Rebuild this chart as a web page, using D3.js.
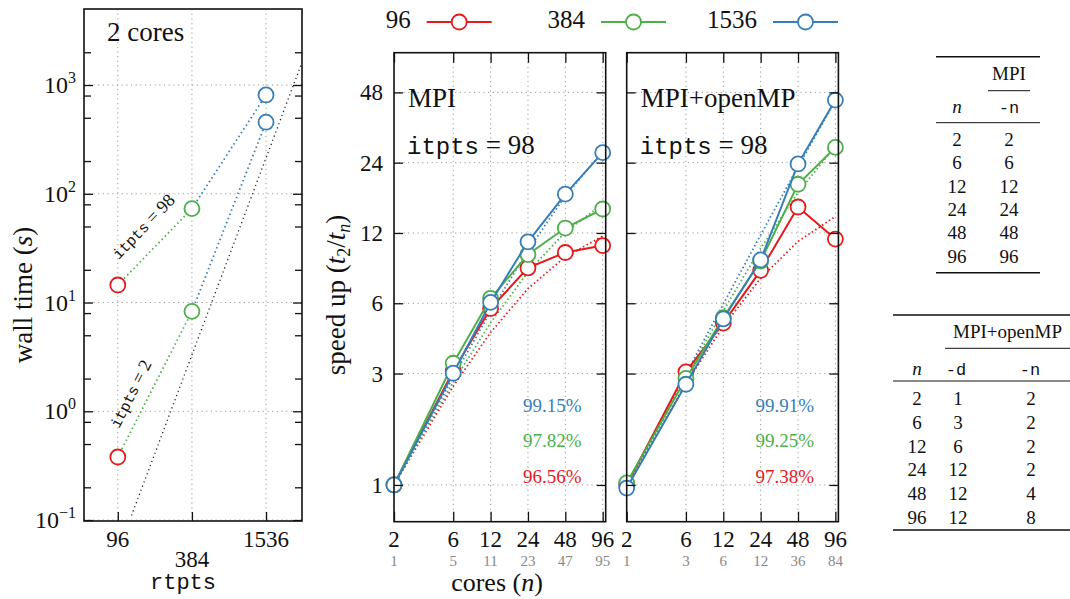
<!DOCTYPE html>
<html>
<head>
<meta charset="utf-8">
<script src="https://cdn.jsdelivr.net/npm/d3@7"></script>
<style>
body { margin: 0; background: #fff; }
text { font-family: "Liberation Serif", "Times New Roman", Tinos, "DejaVu Serif", serif; fill: #111; }
.mono { font-family: "Liberation Mono", "Courier New", Cousine, "DejaVu Sans Mono", monospace; }
.grid line { stroke: #999; stroke-width: 1; stroke-dasharray: 1.2,3.5; }
.ax line { stroke: #111; stroke-width: 1.3; }
.ax path { display: none; }
</style>
</head>
<body>
<script>
let W = 1070;
let H = 599;

let red = "#e41a1c", green = "#4daf4a", blue = "#377eb8";
let colors = [red, green, blue];
let sizes = ["96", "384", "1536"];

// left panel: wall time at 2 cores
let rtpts = [96, 384, 1536];
let wall98 = [14.5, 73, 810];
let wall2 = [0.38, 8.3, 455];
let guideRtpts = [124, 3000];
let guideWall = [0.11, 1600];
let wallTicks = [0.1, 1, 10, 100, 1000];
let wallExp = ["\u22121", "0", "1", "2", "3"];

// speed up panels
let cores = [2, 6, 12, 24, 48, 96];
let workersMpi = [1, 5, 11, 23, 47, 95];
let workersHyb = [1, 3, 6, 12, 36, 84];
let speedTicks = [1, 3, 6, 12, 24, 48];

let mpi96 = [1, 3.08, 5.7, 8.5, 9.9, 10.6];
let mpi384 = [1, 3.32, 6.3, 9.7, 12.6, 15.2];
let mpi1536 = [1, 3.01, 6.05, 11.0, 17.6, 26.5];
let mpiFit96 = [1, 2.65, 4.5, 6.93, 9.49, 11.63];
let mpiFit384 = [1, 2.76, 4.95, 8.17, 12.11, 15.97];
let mpiFit1536 = [1, 2.9, 5.53, 10.12, 17.3, 26.78];
let effMpi = [96.56, 97.82, 99.15];

let hyb96 = [1.0, 3.05, 4.93, 8.3, 15.5, 11.3];
let hyb384 = [1.02, 2.86, 5.2, 9.1, 19.4, 27.9];
let hyb1536 = [0.97, 2.7, 5.14, 9.2, 23.7, 44.5];
let hybFit96 = [1, 2.72, 4.78, 7.68, 11.04, 14.12];
let hybFit384 = [1, 2.91, 5.58, 10.31, 17.88, 28.24];
let hybFit1536 = [1, 2.99, 5.95, 11.77, 23.05, 44.26];
let effHyb = [97.38, 99.25, 99.91];

// tables
let tabN = [2, 6, 12, 24, 48, 96];
let tabMpiN = [2, 6, 12, 24, 48, 96];
let tabHybD = [1, 3, 6, 12, 12, 12];
let tabHybN = [2, 2, 2, 2, 4, 8];

let svg = d3.select("body")
  .append("svg")
  .attr("width", W)
  .attr("height", H);

// ---------- left panel ----------
let L = {x0: 84, x1: 302, y0: 9, y1: 521};
let xL = d3.scaleLog().domain([51, 3010]).range([L.x0, L.x1]);
let yL = d3.scaleLog().domain([0.098, 5000]).range([L.y1, L.y0]);

let minorWall = [];
wallTicks.forEach((d) => { [2, 5, 8].forEach((m) => { if (d * m < 5000) minorWall.push(d * m); }); });

svg.append("clipPath").attr("id", "clipL")
  .append("rect").attr("x", L.x0).attr("y", L.y0)
  .attr("width", L.x1 - L.x0).attr("height", L.y1 - L.y0);

let gridL = svg.append("g").attr("class", "grid");
gridL.selectAll(".h").data(wallTicks).enter().append("line")
  .attr("x1", L.x0).attr("x2", L.x1)
  .attr("y1", (d) => yL(d)).attr("y2", (d) => yL(d));
gridL.selectAll(".v").data(rtpts).enter().append("line")
  .attr("x1", (d) => xL(d)).attr("x2", (d) => xL(d))
  .attr("y1", L.y0).attr("y2", L.y1);

let lp = svg.append("g").attr("clip-path", "url(#clipL)");
lp.append("path")
  .datum(d3.zip(guideRtpts, guideWall))
  .attr("d", d3.line().x((d) => xL(d[0])).y((d) => yL(d[1])))
  .attr("fill", "none").attr("stroke", "#222")
  .attr("stroke-width", 1.3).attr("stroke-dasharray", "1.2,3.2");

[wall98, wall2].forEach((vals) => {
  for (let i = 1; i < rtpts.length; i++) {
    lp.append("line")
      .attr("x1", xL(rtpts[i - 1])).attr("y1", yL(vals[i - 1]))
      .attr("x2", xL(rtpts[i])).attr("y2", yL(vals[i]))
      .attr("stroke", colors[i]).attr("stroke-width", 1.8)
      .attr("stroke-dasharray", "1.5,3");
  }
});

[wall98, wall2].forEach((vals) => {
  lp.selectAll(null).data(vals).enter().append("circle")
    .attr("cx", (d, i) => xL(rtpts[i])).attr("cy", (d) => yL(d))
    .attr("r", 7.5).attr("fill", "#fff")
    .attr("stroke", (d, i) => colors[i]).attr("stroke-width", 1.8);
});

function slopeLabel(vals, val, t, off) {
  let ax = xL(rtpts[0]), ay = yL(vals[0]);
  let bx = xL(rtpts[1]), by = yL(vals[1]);
  let dx = bx - ax, dy = by - ay, len = Math.hypot(dx, dy);
  let ang = Math.atan2(dy, dx) * 180 / Math.PI;
  let cx = ax + dx * t + dy / len * off;
  let cy = ay + dy * t - dx / len * off;
  let tx = svg.append("text")
    .attr("transform", "translate(" + cx + "," + cy + ") rotate(" + ang + ")")
    .attr("text-anchor", "middle").attr("dy", "0.35em")
    .style("font-size", "18px");
  tx.append("tspan").attr("class", "mono").style("font-size", "15px").text("itpts");
  tx.append("tspan").text(" = " + val);
}
slopeLabel(wall98, 98, 0.56, 23);
slopeLabel(wall2, 2, 0.38, 18);

// axes of left panel
svg.append("g").attr("class", "ax").attr("transform", "translate(" + L.x0 + ",0)")
  .call(d3.axisLeft(yL).tickValues(wallTicks).tickSize(-9).tickFormat(""));
svg.append("g").attr("class", "ax").attr("transform", "translate(" + L.x0 + ",0)")
  .call(d3.axisLeft(yL).tickValues(minorWall).tickSize(-7).tickFormat(""));
svg.append("g").attr("class", "ax").attr("transform", "translate(" + L.x1 + ",0)")
  .call(d3.axisRight(yL).tickValues(wallTicks).tickSize(-9).tickFormat(""));
svg.append("g").attr("class", "ax").attr("transform", "translate(" + L.x1 + ",0)")
  .call(d3.axisRight(yL).tickValues(minorWall).tickSize(-7).tickFormat(""));
svg.append("g").attr("class", "ax").attr("transform", "translate(0," + L.y1 + ")")
  .call(d3.axisBottom(xL).tickValues(rtpts).tickSize(-9).tickFormat(""));

svg.append("rect")
  .attr("x", L.x0).attr("y", L.y0).attr("width", L.x1 - L.x0).attr("height", L.y1 - L.y0)
  .attr("fill", "none").attr("stroke", "#111").attr("stroke-width", 1.6);

let yLab = svg.append("g").selectAll("text").data(wallTicks).enter().append("text")
  .attr("x", 76).attr("y", (d) => yL(d) + 8)
  .attr("text-anchor", "end").style("font-size", "24px");
yLab.append("tspan").text("10");
yLab.append("tspan").attr("dy", -10).style("font-size", "16px").text((d, i) => wallExp[i]);

svg.append("g").selectAll("text").data(rtpts).enter().append("text")
  .attr("x", (d) => xL(d))
  .attr("y", (d, i) => i === 1 ? 567 : 547)
  .attr("text-anchor", "middle").style("font-size", "23px")
  .text((d) => d);
svg.append("text").attr("class", "mono")
  .attr("x", 183).attr("y", 589).attr("text-anchor", "middle")
  .style("font-size", "22px").text("rtpts");

svg.append("text").attr("x", 107).attr("y", 41).style("font-size", "27px").text("2 cores");

let wl = svg.append("text")
  .attr("transform", "translate(32,295) rotate(-90)")
  .attr("text-anchor", "middle").style("font-size", "27px");
wl.append("tspan").text("wall time (");
wl.append("tspan").style("font-style", "italic").text("s");
wl.append("tspan").text(")");

// ---------- speed up panels ----------
let ySp = d3.scaleLog().base(2).domain([0.696, 71]).range([521.7, 52.7]);
let yTop = 52.7, yBot = 521.7;

function speedPanel(x0, x1, title, workers, series, fits, eff, effX, showY) {
  let x = d3.scaleLog().base(2).domain([2, 101.5]).range([x0, x1]);
  let g = svg.append("g");

  let grid = g.append("g").attr("class", "grid");
  grid.selectAll(".h").data(speedTicks).enter().append("line")
    .attr("x1", x0).attr("x2", x1)
    .attr("y1", (d) => ySp(d)).attr("y2", (d) => ySp(d));
  grid.selectAll(".v").data(cores.slice(1)).enter().append("line")
    .attr("x1", (d) => x(d)).attr("x2", (d) => x(d))
    .attr("y1", yTop).attr("y2", yBot);

  let line = d3.line().x((d, i) => x(cores[i])).y((d) => ySp(d));

  fits.forEach((f, k) => {
    g.append("path").datum(f).attr("d", line)
      .attr("fill", "none").attr("stroke", colors[k])
      .attr("stroke-width", 1.8).attr("stroke-dasharray", "1.5,2.6");
  });
  series.forEach((s, k) => {
    g.append("path").datum(s).attr("d", line)
      .attr("fill", "none").attr("stroke", colors[k]).attr("stroke-width", 2);
    g.selectAll(null).data(s).enter().append("circle")
      .attr("cx", (d, i) => x(cores[i])).attr("cy", (d) => ySp(d))
      .attr("r", 7.5).attr("fill", "#fff")
      .attr("stroke", colors[k]).attr("stroke-width", 1.8);
  });

  g.append("g").attr("class", "ax").attr("transform", "translate(" + x0 + ",0)")
    .call(d3.axisLeft(ySp).tickValues(speedTicks).tickSize(-9).tickFormat(""));
  g.append("g").attr("class", "ax").attr("transform", "translate(" + x1 + ",0)")
    .call(d3.axisRight(ySp).tickValues(speedTicks).tickSize(-9).tickFormat(""));
  g.append("g").attr("class", "ax").attr("transform", "translate(0," + yBot + ")")
    .call(d3.axisBottom(x).tickValues(cores).tickSize(-10).tickFormat(""));
  g.append("g").attr("class", "ax").attr("transform", "translate(0," + yTop + ")")
    .call(d3.axisTop(x).tickValues(cores).tickSize(-10).tickFormat(""));

  g.append("rect")
    .attr("x", x0).attr("y", yTop).attr("width", x1 - x0).attr("height", yBot - yTop)
    .attr("fill", "none").attr("stroke", "#111").attr("stroke-width", 1.6);

  g.selectAll(".xl").data(cores).enter().append("text")
    .attr("x", (d) => x(d)).attr("y", 547)
    .attr("text-anchor", "middle").style("font-size", "23px").text((d) => d);
  g.selectAll(".wl").data(workers).enter().append("text")
    .attr("x", (d, i) => x(cores[i])).attr("y", 566)
    .attr("text-anchor", "middle").style("font-size", "15px")
    .style("fill", "#888").text((d) => d);

  if (showY) {
    g.selectAll(".yl").data(speedTicks).enter().append("text")
      .attr("x", 383).attr("y", (d) => ySp(d) + 8)
      .attr("text-anchor", "end").style("font-size", "23px").text((d) => d);
  }

  g.append("text").attr("x", x0 + 14).attr("y", 107)
    .style("font-size", "27px").text(title);
  let it = g.append("text").attr("x", x0 + 13).attr("y", 154).style("font-size", "27px");
  it.append("tspan").attr("class", "mono").style("font-size", "24px").text("itpts");
  it.append("tspan").text(" = 98");

  eff.forEach((e, k) => {
    g.append("text")
      .attr("x", effX).attr("y", [482.7, 446.7, 411.7][k])
      .attr("text-anchor", "end").style("font-size", "19px")
      .style("fill", colors[k]).text(e.toFixed(2) + "%");
  });
}

speedPanel(394, 605.7, "MPI", workersMpi,
  [mpi96, mpi384, mpi1536], [mpiFit96, mpiFit384, mpiFit1536], effMpi, 581.7, true);
speedPanel(626.7, 838.4, "MPI+openMP", workersHyb,
  [hyb96, hyb384, hyb1536], [hybFit96, hybFit384, hybFit1536], effHyb, 814, false);

let cl = svg.append("text").attr("x", 497).attr("y", 591)
  .attr("text-anchor", "middle").style("font-size", "26px");
cl.append("tspan").text("cores (");
cl.append("tspan").style("font-style", "italic").text("n");
cl.append("tspan").text(")");

let sl = svg.append("text")
  .attr("transform", "translate(345,295) rotate(-90)")
  .attr("text-anchor", "middle").style("font-size", "27px");
sl.append("tspan").text("speed up (");
sl.append("tspan").style("font-style", "italic").text("t");
sl.append("tspan").attr("dy", 5).style("font-size", "18px").text("2");
sl.append("tspan").attr("dy", -5).text("/");
sl.append("tspan").style("font-style", "italic").text("t");
sl.append("tspan").attr("dy", 5).style("font-size", "18px").style("font-style", "italic").text("n");
sl.append("tspan").attr("dy", -5).text(")");

// ---------- legend ----------
let leg = svg.append("g").selectAll("g").data(sizes).enter().append("g")
  .attr("transform", (d, i) => "translate(" + [410.7, 585, 757][i] + ",0)");
leg.append("text").attr("x", 0).attr("y", 28)
  .attr("text-anchor", "end").style("font-size", "25px").text((d) => d);
leg.append("line").attr("x1", 16).attr("x2", 81).attr("y1", 22).attr("y2", 22)
  .attr("stroke", (d, i) => colors[i]).attr("stroke-width", 2);
leg.append("circle").attr("cx", 48.5).attr("cy", 22).attr("r", 7.5)
  .attr("fill", "#fff").attr("stroke", (d, i) => colors[i]).attr("stroke-width", 1.8);

// ---------- tables ----------
function rule(x1, x2, y, w) {
  svg.append("line").attr("x1", x1).attr("x2", x2).attr("y1", y).attr("y2", y)
    .attr("stroke", "#111").attr("stroke-width", w);
}
function cell(x, y, txt, cls, italic) {
  let t = svg.append("text").attr("x", x).attr("y", y)
    .attr("text-anchor", "middle").style("font-size", "19px").text(txt);
  if (cls) t.attr("class", cls).style("font-size", "17px");
  if (italic) t.style("font-style", "italic");
}

rule(936, 1040, 56.7, 1.6);
cell(1009, 80, "MPI");
rule(988, 1030, 90.7, 1);
cell(957, 113, "n", null, true);
cell(1009, 113, "-n", "mono");
rule(936, 1040, 122.7, 1);
tabN.forEach((d, i) => {
  cell(957, 146 + i * 23.3, d);
  cell(1009, 146 + i * 23.3, tabMpiN[i]);
});
rule(936, 1040, 272.7, 1.6);

rule(893, 1070, 315, 1.6);
cell(1007.5, 338, "MPI+openMP");
rule(945, 1070, 348.3, 1);
cell(917, 375, "n", null, true);
cell(956, 375, "-d", "mono");
cell(1030, 375, "-n", "mono");
rule(893, 1070, 381, 1);
tabN.forEach((d, i) => {
  cell(917, 405 + i * 23.8, d);
  cell(958, 405 + i * 23.8, tabHybD[i]);
  cell(1031, 405 + i * 23.8, tabHybN[i]);
});
rule(893, 1070, 530, 1.6);
</script>
</body>
</html>
